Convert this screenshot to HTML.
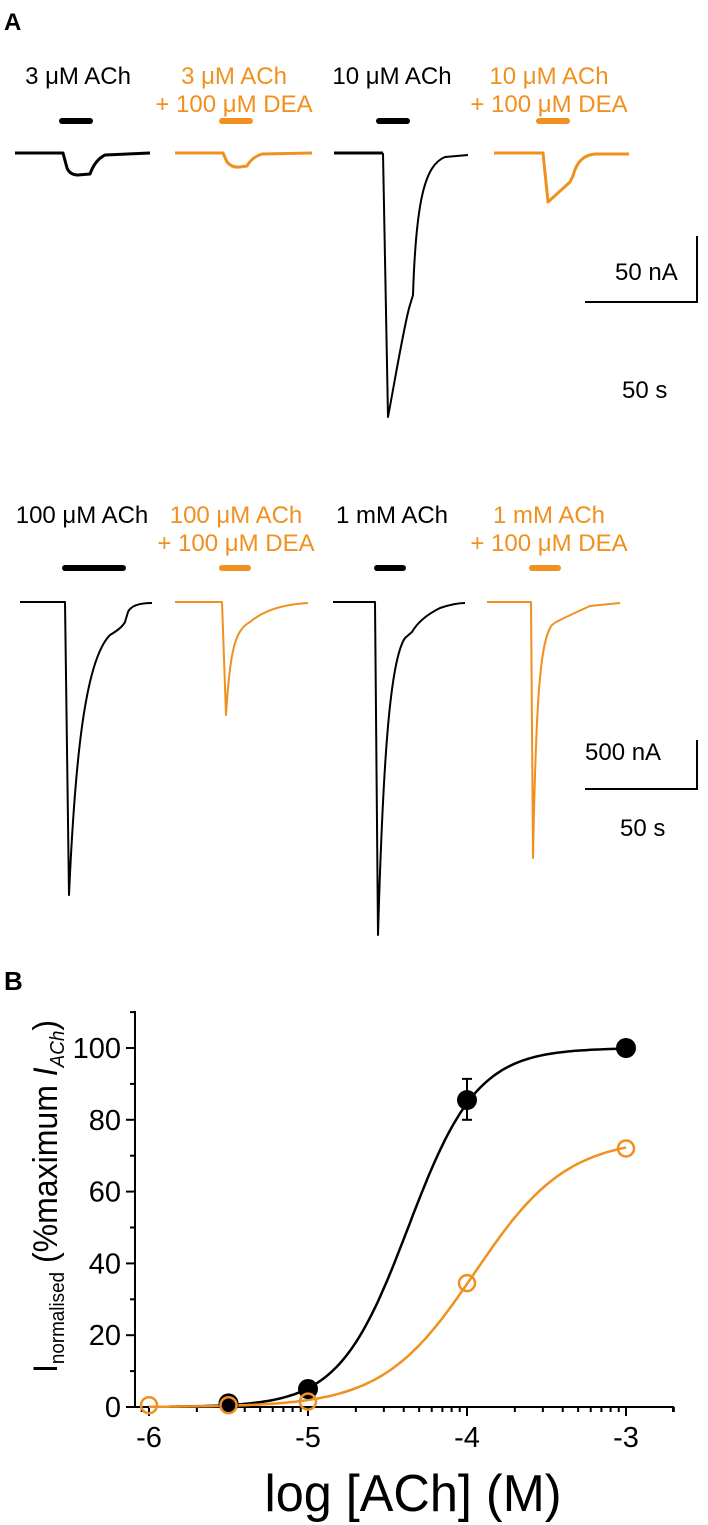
<!DOCTYPE html>
<html><head><meta charset="utf-8"><style>
html,body{margin:0;padding:0;background:#fff}
svg{display:block}
text{font-family:"Liberation Sans",Arial,sans-serif}
</style></head><body>
<svg width="708" height="1525" viewBox="0 0 708 1525" xmlns="http://www.w3.org/2000/svg">
<g font-size="24" text-anchor="middle">
<text x="4" y="30" font-weight="bold" font-size="24" text-anchor="start">A</text>
<text x="78" y="84" fill="#000">3 μM ACh</text>
<text x="234" y="84" fill="#f0901e">3 μM ACh</text>
<text x="234" y="112" fill="#f0901e">+ 100 μM DEA</text>
<text x="392" y="84" fill="#000">10 μM ACh</text>
<text x="549" y="84" fill="#f0901e">10 μM ACh</text>
<text x="549" y="112" fill="#f0901e">+ 100 μM DEA</text>
</g>
<g stroke-linecap="round" stroke-width="6">
<line x1="62" y1="121" x2="90" y2="121" stroke="#000"/>
<line x1="222" y1="121" x2="250" y2="121" stroke="#f0901e"/>
<line x1="379" y1="121" x2="407" y2="121" stroke="#000"/>
<line x1="539" y1="121" x2="567" y2="121" stroke="#f0901e"/>
</g>
<g fill="none" stroke-width="3" stroke-linejoin="round">
<path d="M15,153 L63,153 L67,168 Q70,175 78,175 L90,174 Q95,160 105,155 L150,153" stroke="#000"/>
<path d="M175,153 L223,153 L227,162 Q232,168 240,167 L247,166 Q252,157 262,154 L312,153" stroke="#f0901e"/>
<path d="M334,153 L383,153" stroke="#000"/>
<path d="M383,153 L388,417 C395,380 405,320 410,305 L413,295 C416,200 425,165 445,157 L468,155" stroke="#000" stroke-width="2"/>
<path d="M494,153 L543,153 L548,202 L570,182 L573,176 C577,160 585,155 595,154 L629,154" stroke="#f0901e"/>
</g>
<line x1="697" y1="236" x2="697" y2="302" stroke="#000" stroke-width="2"/>
<line x1="585" y1="302" x2="698" y2="302" stroke="#000" stroke-width="2"/>
<text x="615" y="280" font-size="24">50 nA</text>
<text x="622" y="398" font-size="24">50 s</text>

<g font-size="24" text-anchor="middle">
<text x="82" y="523" fill="#000">100 μM ACh</text>
<text x="236" y="523" fill="#f0901e">100 μM ACh</text>
<text x="236" y="551" fill="#f0901e">+ 100 μM DEA</text>
<text x="392" y="523" fill="#000">1 mM ACh</text>
<text x="549" y="523" fill="#f0901e">1 mM ACh</text>
<text x="549" y="551" fill="#f0901e">+ 100 μM DEA</text>
</g>
<g stroke-linecap="round" stroke-width="6">
<line x1="65" y1="568" x2="123" y2="568" stroke="#000"/>
<line x1="222" y1="568" x2="248" y2="568" stroke="#f0901e"/>
<line x1="377" y1="568" x2="403" y2="568" stroke="#000"/>
<line x1="532" y1="568" x2="558" y2="568" stroke="#f0901e"/>
</g>
<g fill="none" stroke-width="2" stroke-linejoin="round">
<path d="M20,602 L65,602 L69,895 C75,760 85,660 110,635 Q122,628 125,622 L128,612 Q132,603 152,603" stroke="#000"/>
<path d="M175,602 L222,602 L226,715 C230,650 235,630 250,622 Q270,605 308,603" stroke="#f0901e"/>
<path d="M333,602 L375,602 L378,935 C383,760 390,660 405,638 L412,632 Q420,618 440,608 Q455,603 465,603" stroke="#000"/>
<path d="M487,602 L531,602 L533,858 C536,700 540,640 552,625 L556,622 Q570,615 590,606 L620,603" stroke="#f0901e"/>
</g>
<line x1="697" y1="740" x2="697" y2="789" stroke="#000" stroke-width="2"/>
<line x1="585" y1="789" x2="698" y2="789" stroke="#000" stroke-width="2"/>
<text x="585" y="760" font-size="24">500 nA</text>
<text x="620" y="836" font-size="24">50 s</text>

<text x="4" y="990" font-weight="bold" font-size="26">B</text>
<g id="axes" stroke="#000" stroke-width="2"></g>
<g id="lbl"></g>
<text transform="translate(57,1373) rotate(-90)" font-size="34" textLength="353" lengthAdjust="spacingAndGlyphs">I<tspan font-size="20" dy="7">normalised</tspan><tspan dy="-7"> (%maximum </tspan><tspan font-style="italic">I</tspan><tspan font-size="20" font-style="italic" dy="7">ACh</tspan><tspan dy="-7">)</tspan></text>
<text x="413" y="1511" font-size="52" text-anchor="middle" textLength="297" lengthAdjust="spacingAndGlyphs">log [ACh] (M)</text>
<path id="cb" fill="none" stroke="#000" stroke-width="2.5"/>
<path id="co" fill="none" stroke="#f0901e" stroke-width="2.5"/>
<g id="pts"></g>
</svg>
<script>
var X=function(v){return 149+(v+6)*159;},Y=function(v){return 1407-v*3.59;};
var ax=document.getElementById('axes'),lb=document.getElementById('lbl'),s='';
s+='<line x1="135" y1="1011" x2="135" y2="1408"/><line x1="134" y1="1407" x2="674" y2="1407"/>';
for(var v=0;v<=110;v+=10){var L=(v%20==0)?9:5;s+='<line x1="'+(135-L)+'" y1="'+Y(v)+'" x2="135" y2="'+Y(v)+'"/>';}
for(var d=-7;d<=-3;d++){for(var m=1;m<10;m++){var x=X(d+Math.log10(m));if(x<137||x>674)continue;var L=m==1?9:5;s+='<line x1="'+x+'" y1="1407" x2="'+x+'" y2="'+(1407+L)+'"/>';}}
s+='<line x1="673" y1="1407" x2="673" y2="1412"/>';
ax.innerHTML=s;
var t='';
[0,20,40,60,80,100].forEach(function(v){t+='<text x="121" y="'+(Y(v)+10)+'" font-size="29" text-anchor="end">'+v+'</text>';});
[-6,-5,-4,-3].forEach(function(v){t+='<text x="'+X(v)+'" y="1447" font-size="29" text-anchor="middle">'+v+'</text>';});
lb.innerHTML=t;
function f(top,ec,h,x){return top/(1+Math.pow(10,(ec-x)*h));}
function path(top,ec,h){var p='';for(var x=-6;x<=-3.0001+0.01;x+=0.02){p+=(p?'L':'M')+X(x).toFixed(1)+','+Y(f(top,ec,h,x)).toFixed(1);}return p;}
document.getElementById('cb').setAttribute('d',path(100,-4.37,2.0));
document.getElementById('co').setAttribute('d',path(75,-3.95,1.5));
var q='';
q+='<line x1="'+X(-4)+'" y1="'+Y(91.4)+'" x2="'+X(-4)+'" y2="'+Y(80)+'" stroke="#000" stroke-width="2"/>';
q+='<line x1="'+(X(-4)-5)+'" y1="'+Y(91.4)+'" x2="'+(X(-4)+5)+'" y2="'+Y(91.4)+'" stroke="#000" stroke-width="2"/>';
q+='<line x1="'+(X(-4)-5)+'" y1="'+Y(80)+'" x2="'+(X(-4)+5)+'" y2="'+Y(80)+'" stroke="#000" stroke-width="2"/>';
[[-5.5,1],[-5,5],[-4,85.5],[-3,100]].forEach(function(a){q+='<circle cx="'+X(a[0])+'" cy="'+Y(a[1])+'" r="10" fill="#000"/>';});
[[-6,0.5],[-5.5,0.5],[-5,1.5],[-4,34.5],[-3,72]].forEach(function(a){q+='<circle cx="'+X(a[0])+'" cy="'+Y(a[1])+'" r="8" fill="none" stroke="#f0901e" stroke-width="2.5"/>';});
document.getElementById('pts').innerHTML=q;
</script>
</body></html>
